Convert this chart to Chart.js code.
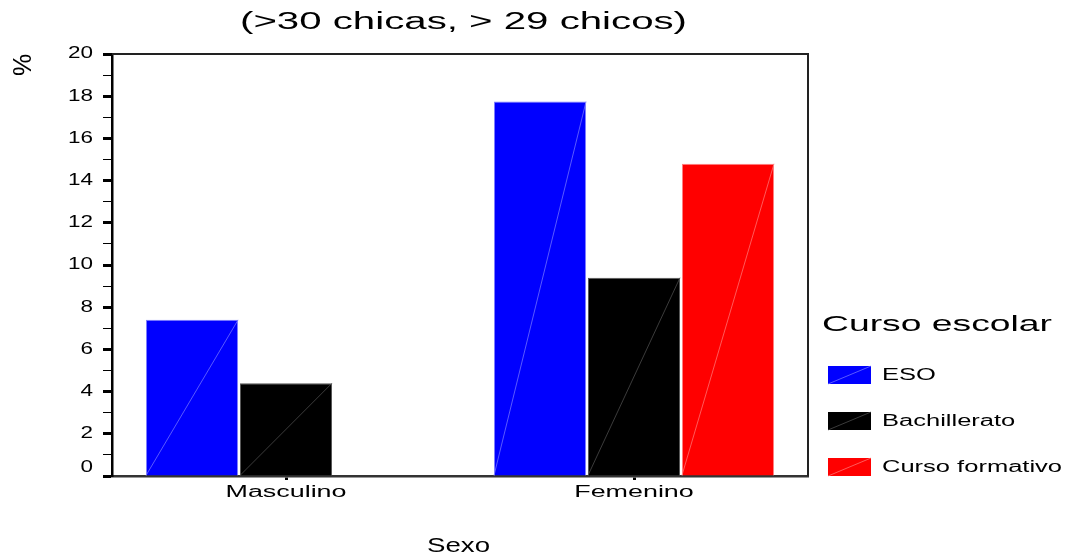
<!DOCTYPE html>
<html>
<head>
<meta charset="utf-8">
<script src="https://cdn.jsdelivr.net/npm/chart.js@4.4.1/dist/chart.umd.min.js"></script>
<style>
  html, body { margin: 0; padding: 0; background: #fff; }
  #wrap { width: 1067px; height: 558px; }
</style>
</head>
<body>
<div id="wrap"><canvas id="chart" width="1067" height="558"></canvas></div>
<script>
// data
var sexo = ['Masculino', 'Femenino'];
var cursos = ['ESO', 'Bachillerato', 'Curso formativo'];
var eso = [7.4, 17.75];
var bachillerato = [4.4, 9.4];
var cursoFormativo = [null, 14.8];
var colores = ['#0000ff', '#000000', '#ff0000'];
var bordes = ['#7f7fff', '#555555', '#ff8080'];
var yTicks = [0, 2, 4, 6, 8, 10, 12, 14, 16, 18, 20];

var FONT = '"Liberation Sans", Arial, sans-serif';

// the original export is stretched sideways, so text is drawn wide
function widthOf(c, text, size) {
    c.save();
    c.font = size + 'px ' + FONT;
    var w = c.measureText(text).width;
    c.restore();
    return w;
}

function wideText(c, text, x, y, size, sx, align) {
    c.save();
    c.font = size + 'px ' + FONT;
    c.textBaseline = 'middle';
    c.textAlign = 'left';
    var w = c.measureText(text).width * sx;
    var left = x;
    if (align === 'center') left = x - w / 2;
    if (align === 'right') left = x - w;
    c.translate(left, y);
    c.scale(sx, 1);
    c.fillStyle = '#000';
    c.fillText(text, 0, 0);
    c.restore();
}

var extras = {
    id: 'extras',
    afterDatasetsDraw: function (chart) {
        var c = chart.ctx;
        // thin diagonal inside each bar
        chart.data.datasets.forEach(function (ds, i) {
            var meta = chart.getDatasetMeta(i);
            meta.data.forEach(function (bar, j) {
                if (ds.data[j] == null) return;
                var p = bar.getProps(['x', 'y', 'base', 'width'], true);
                c.save();
                c.strokeStyle = bordes[i];
                c.lineWidth = 0.7;
                c.beginPath();
                c.moveTo(p.x - p.width / 2, p.base);
                c.lineTo(p.x + p.width / 2, p.y);
                c.stroke();
                c.restore();
            });
        });
    },
    afterDraw: function (chart) {
        var c = chart.ctx;
        var a = chart.chartArea;
        c.save();

        // frame top + right
        c.strokeStyle = '#222';
        c.lineWidth = 2;
        c.beginPath();
        c.moveTo(a.left, a.top);
        c.lineTo(a.right, a.top);
        c.lineTo(a.right, a.bottom);
        c.stroke();

        // title and axis names
        wideText(c, '(>30 chicas, > 29 chicos)', 463.5, 23, 23, 447 / widthOf(c, '(>30 chicas, > 29 chicos)', 23), 'center');
        wideText(c, 'Sexo', 458.5, 546, 21, 63 / widthOf(c, 'Sexo', 21), 'center');

        c.save();
        c.translate(24, 65);
        c.rotate(-Math.PI / 2);
        c.font = '25px ' + FONT;
        c.textAlign = 'center';
        c.textBaseline = 'middle';
        c.fillStyle = '#000';
        c.fillText('%', 0, 0);
        c.restore();

        // tick labels
        var xs = chart.scales.x;
        var sxX = 121 / widthOf(c, 'Masculino', 16);
        xs.ticks.forEach(function (t, i) {
            wideText(c, sexo[i], xs.getPixelForTick(i), 493, 16, sxX, 'center');
        });
        var ys = chart.scales.y;
        var sxY = 25 / widthOf(c, '20', 16);
        ys.ticks.forEach(function (t, i) {
            if (yTicks.indexOf(t.value) < 0) return;
            var y = ys.getPixelForTick(i);
            if (t.value === 0) y -= 8;
            wideText(c, String(t.value), 93, y, 16, sxY, 'right');
        });

        // legend
        wideText(c, 'Curso escolar', 822, 325, 22, 230 / widthOf(c, 'Curso escolar', 22), 'left');
        var sxL = 180 / widthOf(c, 'Curso formativo', 16);
        chart.data.datasets.forEach(function (ds, i) {
            var y = 375 + i * 46;
            c.fillStyle = ds.backgroundColor;
            c.fillRect(828, y - 9, 43, 18);
            c.strokeStyle = bordes[i];
            c.lineWidth = 0.7;
            c.beginPath();
            c.moveTo(828, y + 9);
            c.lineTo(871, y - 9);
            c.stroke();
            wideText(c, ds.label, 882, y + 1, 16, sxL, 'left');
        });

        c.restore();
    }
};

var ctx = document.getElementById('chart').getContext('2d');
var myBarChart = new Chart(ctx, {
    type: 'bar',
    data: {
        labels: sexo,
        datasets: [
            { label: cursos[0], data: eso, backgroundColor: colores[0], borderColor: bordes[0], borderWidth: 1 },
            { label: cursos[1], data: bachillerato, backgroundColor: colores[1], borderColor: bordes[1], borderWidth: 1 },
            { label: cursos[2], data: cursoFormativo, backgroundColor: colores[2], borderColor: bordes[2], borderWidth: 1 }
        ]
    },
    options: {
        responsive: false,
        animation: false,
        devicePixelRatio: 1,
        layout: { padding: { left: 0, top: 54, right: 259, bottom: 0 } },
        plugins: {
            legend: { display: false },
            title: { display: false },
            tooltip: { enabled: false }
        },
        datasets: {
            bar: { categoryPercentage: 0.81, barPercentage: 0.98 }
        },
        scales: {
            x: {
                afterFit: function (scale) { scale.height = 82; },
                grid: {
                    drawOnChartArea: false,
                    offset: false,
                    tickLength: 4,
                    tickWidth: 3,
                    tickColor: '#000'
                },
                border: { color: '#333', width: 2.5 },
                ticks: {
                    color: 'rgba(0,0,0,0)',
                    padding: 6,
                    font: { family: FONT, size: 15 }
                }
            },
            y: {
                min: 0,
                max: 20,
                afterFit: function (scale) { scale.width = 112; },
                grid: {
                    drawOnChartArea: false,
                    tickLength: 9,
                    tickColor: '#000',
                    tickWidth: function (c) {
                        return yTicks.indexOf(c.tick.value) >= 0 ? 3 : 1;
                    }
                },
                border: { color: '#000', width: 2.5 },
                ticks: {
                    stepSize: 1,
                    autoSkip: false,
                    color: 'rgba(0,0,0,0)',
                    padding: 10,
                    font: { family: FONT, size: 14 }
                }
            }
        }
    },
    plugins: [extras]
});
</script>
</body>
</html>
